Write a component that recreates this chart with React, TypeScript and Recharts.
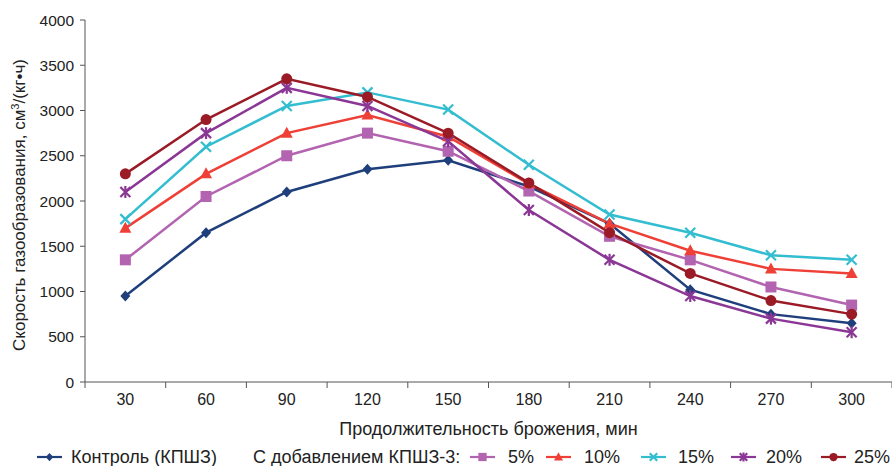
import React from "react";
import { LineChart, Line, XAxis, YAxis } from "recharts";

const categories = ["30", "60", "90", "120", "150", "180", "210", "240", "270", "300"];
const control = [950, 1650, 2100, 2350, 2450, 2160, 1750, 1020, 750, 650];
const add5 = [1350, 2050, 2500, 2750, 2550, 2110, 1610, 1350, 1050, 850];
const add10 = [1700, 2300, 2750, 2950, 2710, 2190, 1750, 1450, 1250, 1200];
const add15 = [1800, 2600, 3050, 3200, 3010, 2400, 1850, 1650, 1400, 1350];
const add20 = [2100, 2750, 3250, 3050, 2660, 1900, 1350, 950, 700, 550];
const add25 = [2300, 2900, 3350, 3150, 2750, 2200, 1650, 1200, 900, 750];
const yTicks = [0, 500, 1000, 1500, 2000, 2500, 3000, 3500, 4000];

const seriesDefs = [
  { key: "control", name: "Контроль (КПШЗ)", values: control, color: "#1F3F7C", shape: "diamond" },
  { key: "p5", name: "5%", values: add5, color: "#B264B0", shape: "square" },
  { key: "p10", name: "10%", values: add10, color: "#EE4036", shape: "triangle" },
  { key: "p15", name: "15%", values: add15, color: "#33BDD0", shape: "x" },
  { key: "p20", name: "20%", values: add20, color: "#8A3795", shape: "star" },
  { key: "p25", name: "25%", values: add25, color: "#9A1B26", shape: "circle" },
];

const data = categories.map((c, i) => {
  const row: any = { cat: c };
  seriesDefs.forEach((s) => (row[s.key] = s.values[i]));
  return row;
});

const W = 892;
const H = 466;
const Y_W = 85;
const X_H = 84;
const TOP = 20;
const NARROW = "'Liberation Sans Narrow', 'Arial Narrow', 'Liberation Sans', sans-serif";
const SANS = "'Liberation Sans', Arial, sans-serif";

function Marker({ shape, cx, cy, color, k = 1 }: any) {
  switch (shape) {
    case "diamond":
      return <polygon points={`${cx},${cy - 5.5 * k} ${cx + 5 * k},${cy} ${cx},${cy + 5.5 * k} ${cx - 5 * k},${cy}`} fill={color} />;
    case "square":
      return <rect x={cx - 5.5 * k} y={cy - 5.5 * k} width={11 * k} height={11 * k} fill={color} />;
    case "triangle":
      return <polygon points={`${cx},${cy - 6.5 * k} ${cx + 6 * k},${cy + 4.5 * k} ${cx - 6 * k},${cy + 4.5 * k}`} fill={color} />;
    case "x":
      return (
        <g stroke={color} strokeWidth={2.2}>
          <line x1={cx - 5 * k} y1={cy - 5 * k} x2={cx + 5 * k} y2={cy + 5 * k} />
          <line x1={cx - 5 * k} y1={cy + 5 * k} x2={cx + 5 * k} y2={cy - 5 * k} />
        </g>
      );
    case "star":
      return (
        <g stroke={color} strokeWidth={2.2}>
          <line x1={cx - 5 * k} y1={cy - 5 * k} x2={cx + 5 * k} y2={cy + 5 * k} />
          <line x1={cx - 5 * k} y1={cy + 5 * k} x2={cx + 5 * k} y2={cy - 5 * k} />
          <line x1={cx} y1={cy - 6 * k} x2={cx} y2={cy + 6 * k} />
        </g>
      );
    case "circle":
    default:
      return <circle cx={cx} cy={cy} r={5.5 * k} fill={color} />;
  }
}

const makeDot = (shape: string, color: string) => (props: any) => {
  const { cx, cy, index } = props;
  if (cx == null || cy == null) return <g key={index} />;
  return (
    <g key={`${shape}-${index}`}>
      <Marker shape={shape} cx={cx} cy={cy} color={color} />
    </g>
  );
};

const plotW = W - Y_W;
const bw = plotW / categories.length;

const XTick = (props: any) => {
  const { x, payload, index } = props;
  const axisY = H - X_H;
  return (
    <g>
      <line x1={x - bw / 2} y1={axisY} x2={x - bw / 2} y2={axisY + 6} stroke="#555" strokeWidth={1} />
      {index === categories.length - 1 ? (
        <line x1={x + bw / 2} y1={axisY} x2={x + bw / 2} y2={axisY + 6} stroke="#555" strokeWidth={1} />
      ) : null}
      <text x={x} y={axisY + 23} textAnchor="middle" fontFamily={NARROW} fontSize={16} fill="#222">
        {payload.value}
      </text>
    </g>
  );
};

const YLabel = () => (
  <text
    transform={`translate(25, ${TOP + (H - X_H - TOP) / 2 + 4}) rotate(-90)`}
    textAnchor="middle"
    fontFamily={SANS}
    fontSize={17}
    fill="#222"
  >
    Скорость газообразования, см<tspan dy={-6} fontSize={11}>3</tspan>
    <tspan dy={6}>/(кг</tspan>
    <tspan>•</tspan>
    <tspan>ч)</tspan>
  </text>
);

const legendItems = [
  { s: seriesDefs[0], mx: 37, tx: 71 },
  { s: seriesDefs[1], mx: 470, tx: 508 },
  { s: seriesDefs[2], mx: 546, tx: 584 },
  { s: seriesDefs[3], mx: 641, tx: 678 },
  { s: seriesDefs[4], mx: 731, tx: 766 },
  { s: seriesDefs[5], mx: 821, tx: 854 },
];

export default function App() {
  return (
    <div style={{ position: "absolute", left: 0, top: 0, width: W, height: H, background: "#fff" }}>
      <LineChart width={W} height={H} data={data} margin={{ top: TOP, right: 0, left: 0, bottom: 0 }}>
        <XAxis
          dataKey="cat"
          height={X_H}
          tickLine={false}
          tick={<XTick />}
          axisLine={{ stroke: "#555", strokeWidth: 1 }}
          interval={0}
          padding={{ left: bw / 2, right: bw / 2 }}
          label={{
            value: "Продолжительность брожения, мин",
            position: "insideTop",
            offset: 40,
            fontFamily: NARROW,
            fontSize: 18,
            fill: "#222",
          }}
        />
        <YAxis
          width={Y_W}
          domain={[0, 4000]}
          ticks={yTicks}
          interval={0}
          tickSize={5}
          tickMargin={6}
          axisLine={{ stroke: "#555", strokeWidth: 1 }}
          tickLine={{ stroke: "#555", strokeWidth: 1 }}
          tick={{ fontFamily: SANS, fontSize: 15.5, fill: "#222" }}
          label={<YLabel />}
        />
        {seriesDefs.map((s) => (
          <Line
            key={s.key}
            type="linear"
            dataKey={s.key}
            name={s.name}
            stroke={s.color}
            strokeWidth={2.5}
            dot={makeDot(s.shape, s.color)}
            activeDot={false}
            isAnimationActive={false}
          />
        ))}
      </LineChart>
      <svg style={{ position: "absolute", left: 0, top: 440 }} width={W} height={26}>
        {legendItems.map(({ s, mx, tx }) => (
          <g key={s.key}>
            <line x1={mx} y1={17} x2={mx + 25} y2={17} stroke={s.color} strokeWidth={2.2} />
            <Marker shape={s.shape} cx={mx + 12.5} cy={17} color={s.color} k={0.75} />
            <text x={tx} y={23} fontFamily={NARROW} fontSize={18} fill="#222">
              {s.name}
            </text>
          </g>
        ))}
        <text x={253} y={23} fontFamily={NARROW} fontSize={18} fill="#222">
          С добавлением КПШЗ-3:
        </text>
      </svg>
    </div>
  );
}
